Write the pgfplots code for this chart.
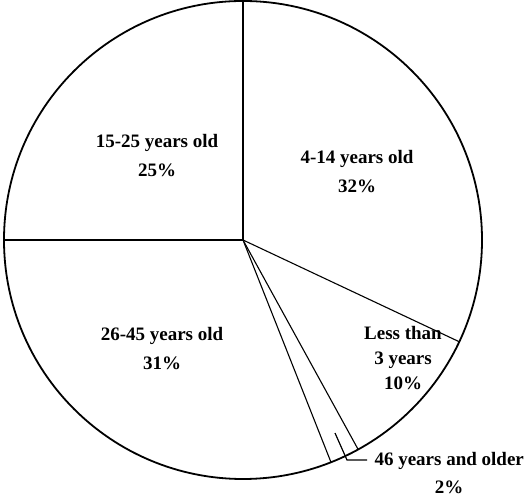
\documentclass[border=0pt]{standalone}
\usepackage{fontspec}
\setmainfont{Liberation Serif}
\usepackage{pgfplots}
\usepackage{pgfplotstable}
\pgfplotsset{compat=1.18}
\pgfplotstableread{
label pct
a 32
b 10
c 2
d 31
e 25
}\piedata
\begin{document}
\begin{tikzpicture}
\path (0,0) rectangle (532pt,497pt);
\begin{axis}[at={(0,0)},anchor=south west,scale only axis,width=532pt,height=497pt,
  xmin=0,xmax=532,ymin=0,ymax=497,hide axis,clip=false]
\def\cx{243}\def\cy{257}\def\rr{239}
\draw[line width=1.8pt] (axis cs:\cx,\cy) circle[radius=239pt];
\def\cum{0}
\pgfplotsforeachungrouped \i in {0,...,4}{%
  \pgfplotstablegetelem{\i}{pct}\of\piedata
  \pgfmathsetmacro\ang{90-3.6*\cum}%
  \pgfmathsetmacro\px{\cx+\rr*cos(\ang)}%
  \pgfmathsetmacro\py{\cy+\rr*sin(\ang)}%
  \edef\temp{\noexpand\draw[line width=1.1pt] (axis cs:\cx,\cy) -- (axis cs:\px,\py);}%
  \temp
  \pgfmathsetmacro\cum{\cum+\pgfplotsretval}%
  \global\let\cum\cum
}
\draw[line width=1.2pt] (axis cs:335,64) -- (axis cs:347,37) -- (axis cs:367,37);
\begin{scope}[every node/.style={font=\fontsize{19}{25}\selectfont\bfseries,align=center}]
\node at (axis cs:157,341) {15-25 years old\\[4pt]25\%};
\node at (axis cs:357,325) {4-14 years old\\[4pt]32\%};
\node at (axis cs:162,148) {26-45 years old\\[4pt]31\%};
\node at (axis cs:403,139) {Less than\\3 years\\10\%};
\node[anchor=base west] at (axis cs:371,31) {46 years and older};
\node at (axis cs:449,10) {2\%};
\end{scope}
\end{axis}
\end{tikzpicture}
\end{document}
